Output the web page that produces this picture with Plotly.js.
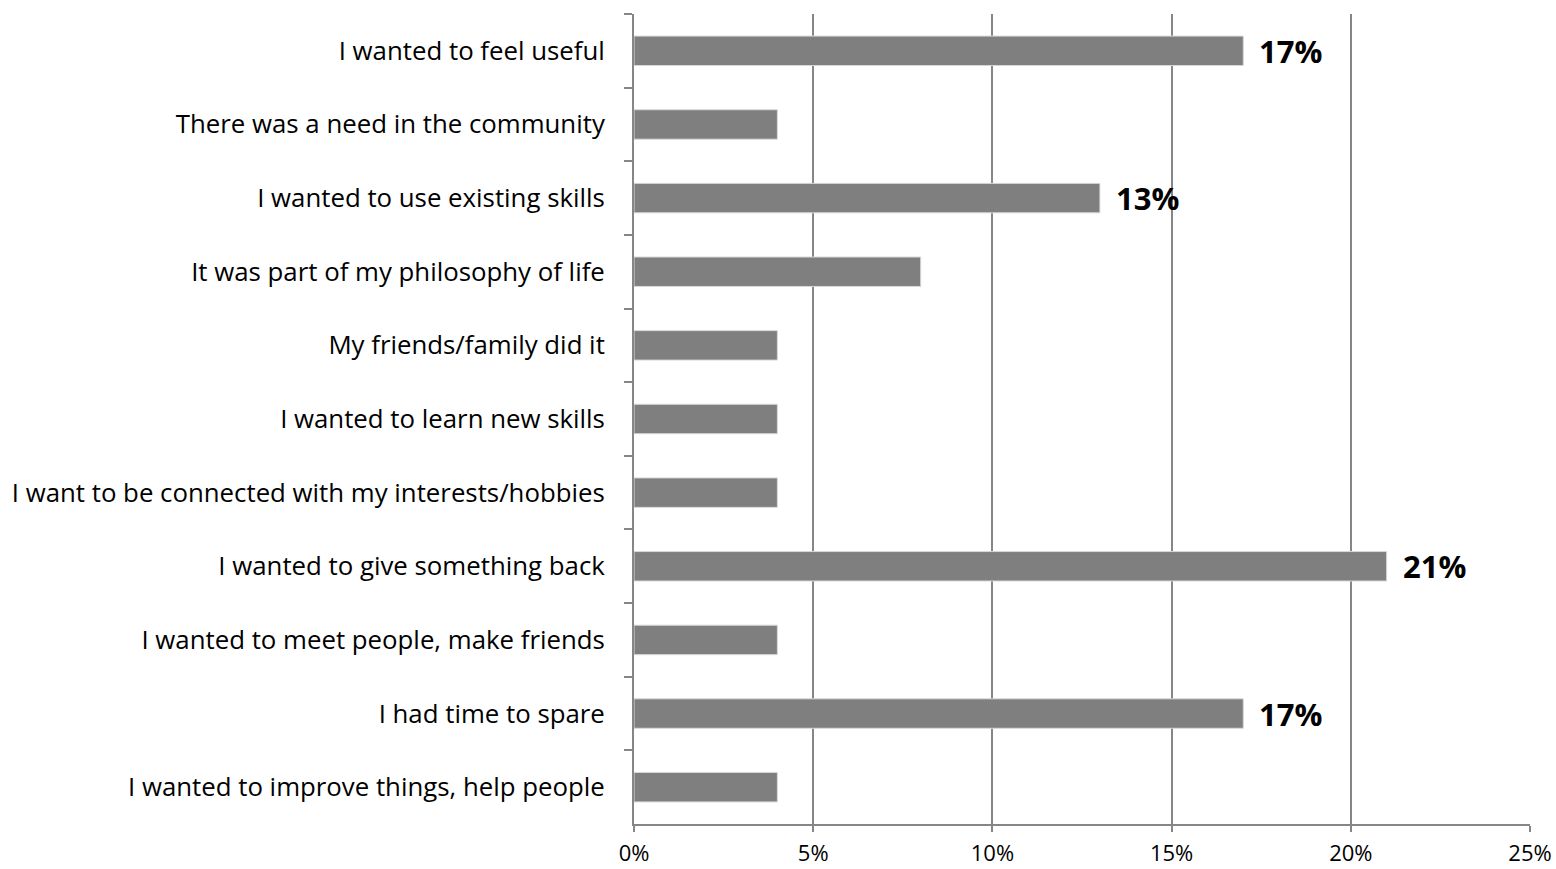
<!DOCTYPE html>
<html><head><meta charset="utf-8">
<script src="https://cdn.plot.ly/plotly-3.0.1.min.js"></script>
<style>html,body{margin:0;padding:0;background:#fff}#chart{width:1556px;height:869px}</style>
</head><body><div id="chart"></div>
<script>
var categories = [
  "I wanted to feel useful",
  "There was a need in the community",
  "I wanted to use existing skills",
  "It was part of my philosophy of life",
  "My friends/family did it",
  "I wanted to learn new skills",
  "I want to be connected with my interests/hobbies",
  "I wanted to give something back",
  "I wanted to meet people, make friends",
  "I had time to spare",
  "I wanted to improve things, help people"
];
var values = [17, 4, 13, 8, 4, 4, 4, 21, 4, 17, 4];
var shownLabels = ["17%", "", "13%", "", "", "", "", "21%", "", "17%", ""];
var tickVals = [0, 5, 10, 15, 20, 25];
var tickText = ["0%", "5%", "10%", "15%", "20%", "25%"];

var FONT = "Open Sans, sans-serif";
var annotations = [];
for (var i = 0; i < categories.length; i++) {
  if (shownLabels[i]) {
    annotations.push({
      x: values[i], y: categories[i], xref: "x", yref: "y",
      text: "<b>" + shownLabels[i] + "</b>", showarrow: false,
      xanchor: "left", yanchor: "middle", xshift: 14,
      font: {family: FONT, size: 31, color: "#000"}
    });
  }
}

var trace = {
  type: "bar", orientation: "h",
  x: values, y: categories,
  marker: {color: "#7f7f7f", line: {color: "#d9d9d9", width: 1}},
  hoverinfo: "x+y"
};

var layout = {
  width: 1556, height: 869,
  margin: {l: 634, r: 26, t: 14, b: 45},
  paper_bgcolor: "#fff", plot_bgcolor: "#fff",
  bargap: 0.6,
  showlegend: false,
  font: {family: FONT, color: "#000"},
  xaxis: {
    range: [0, 25], tickvals: tickVals, ticktext: tickText,
    showgrid: true, gridcolor: "#868686", gridwidth: 2,
    zeroline: false, showline: true, linecolor: "#868686", linewidth: 2,
    ticks: "outside", ticklen: 6, tickcolor: "#868686", tickwidth: 2,
    tickfont: {family: FONT, size: 22, color: "#000"},
    ticklabelstandoff: 3,
    fixedrange: true
  },
  yaxis: {
    autorange: "reversed", type: "category",
    showgrid: false, zeroline: false,
    showline: true, linecolor: "#868686", linewidth: 2,
    ticks: "outside", ticklen: 8, tickcolor: "#868686", tickwidth: 2,
    tickson: "boundaries",
    tickfont: {family: FONT, size: 25.8, color: "#000"},
    ticklabelstandoff: 22,
    fixedrange: true
  },
  annotations: annotations
};

Plotly.newPlot("chart", [trace], layout, {displayModeBar: false, staticPlot: true});
</script>
</body></html>
